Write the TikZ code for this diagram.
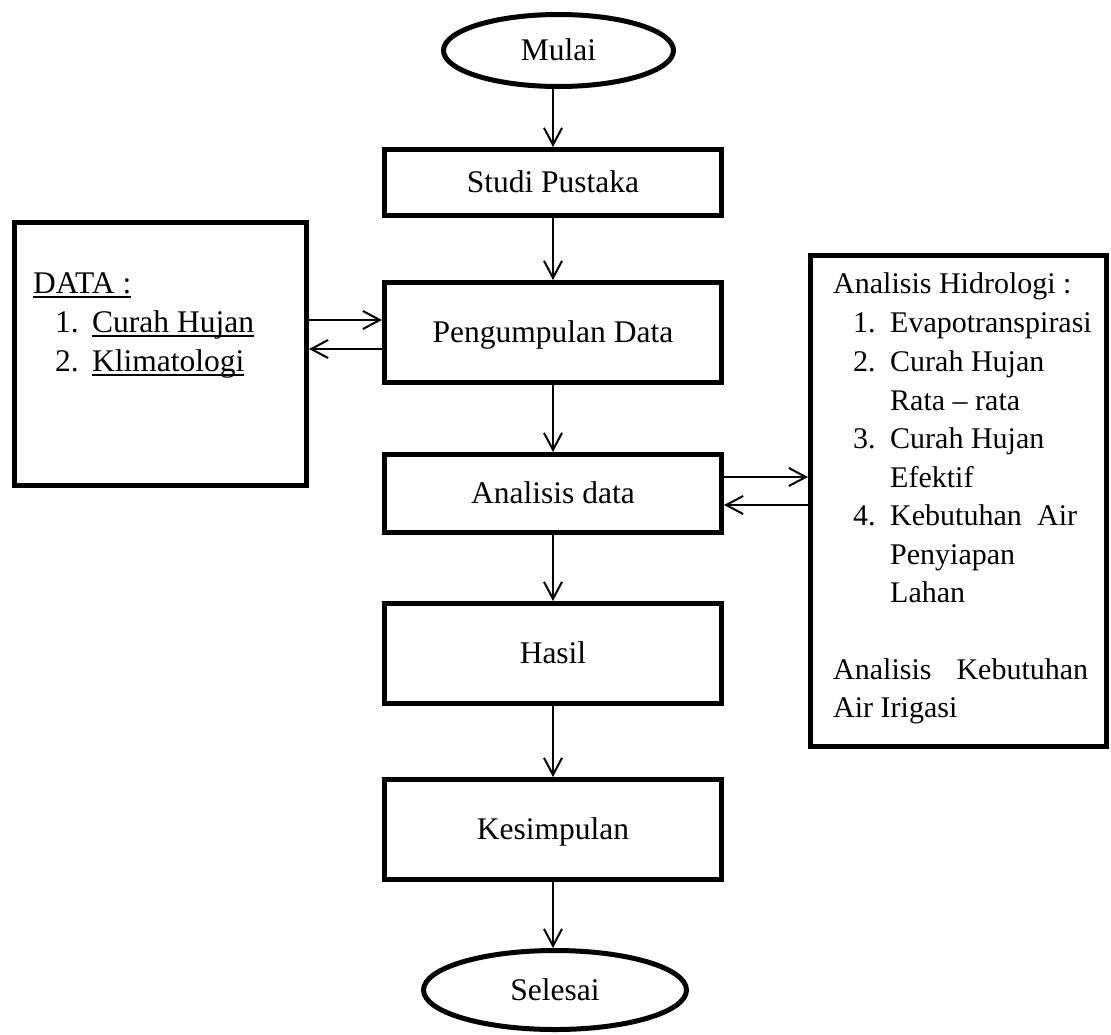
\documentclass[tikz,border=0pt]{standalone}
\usepackage{fontspec}
\setmainfont{Liberation Serif}
\usetikzlibrary{arrows.meta,shapes.geometric}
\newsavebox\ulbox
\newcommand{\myul}[1]{\sbox\ulbox{#1}\rlap{\rule[-5pt]{\wd\ulbox}{1.8pt}}\usebox\ulbox}
\begin{document}
\begin{tikzpicture}[x=1pt,y=-1pt,
  box/.style={draw, line width=5pt, rectangle, minimum width=337pt, inner sep=0pt, text height=20pt, text depth=0pt},
  term/.style={draw, line width=5pt, ellipse, inner sep=0pt, text height=20pt, text depth=0pt},
  frame/.style={draw, line width=5pt, rectangle, inner sep=0pt},
  arr/.style={line width=2pt, -{Straight Barb[length=17pt,width=18pt,line width=2pt]}},
  txt/.style={anchor=base west, inner sep=0pt},
  rtxt/.style={txt, font=\fontsize{30}{38}\selectfont},
  font=\fontsize{31.5}{38}\selectfont]
\useasboundingbox (0,0) rectangle (1111,1034);
\fill[white] (0,0) rectangle (1111,1034);

% main column
\node[term, minimum width=230pt, minimum height=72pt] (mulai) at (558.5,50.5) {Mulai};
\node[box, minimum height=66pt] (studi) at (553,182.5) {Studi Pustaka};
\node[box, minimum height=100pt] (kumpul) at (553,332.5) {Pengumpulan Data};
\node[box, minimum height=78pt] (analisis) at (553,493.5) {Analisis data};
\node[box, minimum height=100pt] (hasil) at (553,653.5) {Hasil};
\node[box, minimum height=100pt] (simpul) at (553,829.5) {Kesimpulan};
\node[term, minimum width=263pt, minimum height=79pt] (selesai) at (555,990) {Selesai};

% side boxes
\node[frame, minimum width=292pt, minimum height=263pt] (data) at (160.5,354) {};
\node[frame, minimum width=296pt, minimum height=491pt] (hidro) at (958.5,501) {};

% DATA texts
\node[txt] (d0) at (33,293) {\myul{DATA :}};
\node[txt] (d1) at (55,332) {\makebox[37pt][l]{1.}\myul{Curah Hujan}};
\node[txt] (d2) at (55,371) {\makebox[37pt][l]{2.}\myul{Klimatologi}};

% Hidrologi texts
\node[rtxt] (h0) at (833,293) {Analisis Hidrologi :};
\node[rtxt] (h1) at (853,332) {\makebox[37pt][l]{1.}Evapotranspirasi};
\node[rtxt] (h2) at (853,371) {\makebox[37pt][l]{2.}Curah Hujan};
\node[rtxt] (h3) at (890,410) {Rata – rata};
\node[rtxt] (h4) at (853,448) {\makebox[37pt][l]{3.}Curah Hujan};
\node[rtxt] (h5) at (890,487) {Efektif};
\node[rtxt] (h6) at (853,525) {\makebox[37pt][l]{4.}\makebox[187pt][s]{Kebutuhan Air}};
\node[rtxt] (h7) at (890,564) {Penyiapan};
\node[rtxt] (h8) at (890,602) {Lahan};
\node[rtxt] (h9) at (833,679) {\makebox[255pt][s]{Analisis Kebutuhan}};
\node[rtxt] (h10) at (833,717) {Air Irigasi};

% vertical arrows
\draw[arr] (studi.north |- mulai.south) -- (studi.north);
\draw[arr] (studi.south) -- (kumpul.north);
\draw[arr] (kumpul.south) -- (analisis.north);
\draw[arr] (analisis.south) -- (hasil.north);
\draw[arr] (hasil.south) -- (simpul.north);
\draw[arr] (simpul.south) -- (selesai.north -| simpul.south);

% horizontal arrows
\coordinate (ya) at (0,320);
\coordinate (yb) at (0,349);
\coordinate (yc) at (0,477);
\coordinate (yd) at (0,505);
\draw[arr] (data.east |- ya) -- (kumpul.west |- ya);
\draw[arr] (kumpul.west |- yb) -- (data.east |- yb);
\draw[arr] (analisis.east |- yc) -- (hidro.west |- yc);
\draw[arr] (hidro.west |- yd) -- (analisis.east |- yd);
\end{tikzpicture}
\end{document}
